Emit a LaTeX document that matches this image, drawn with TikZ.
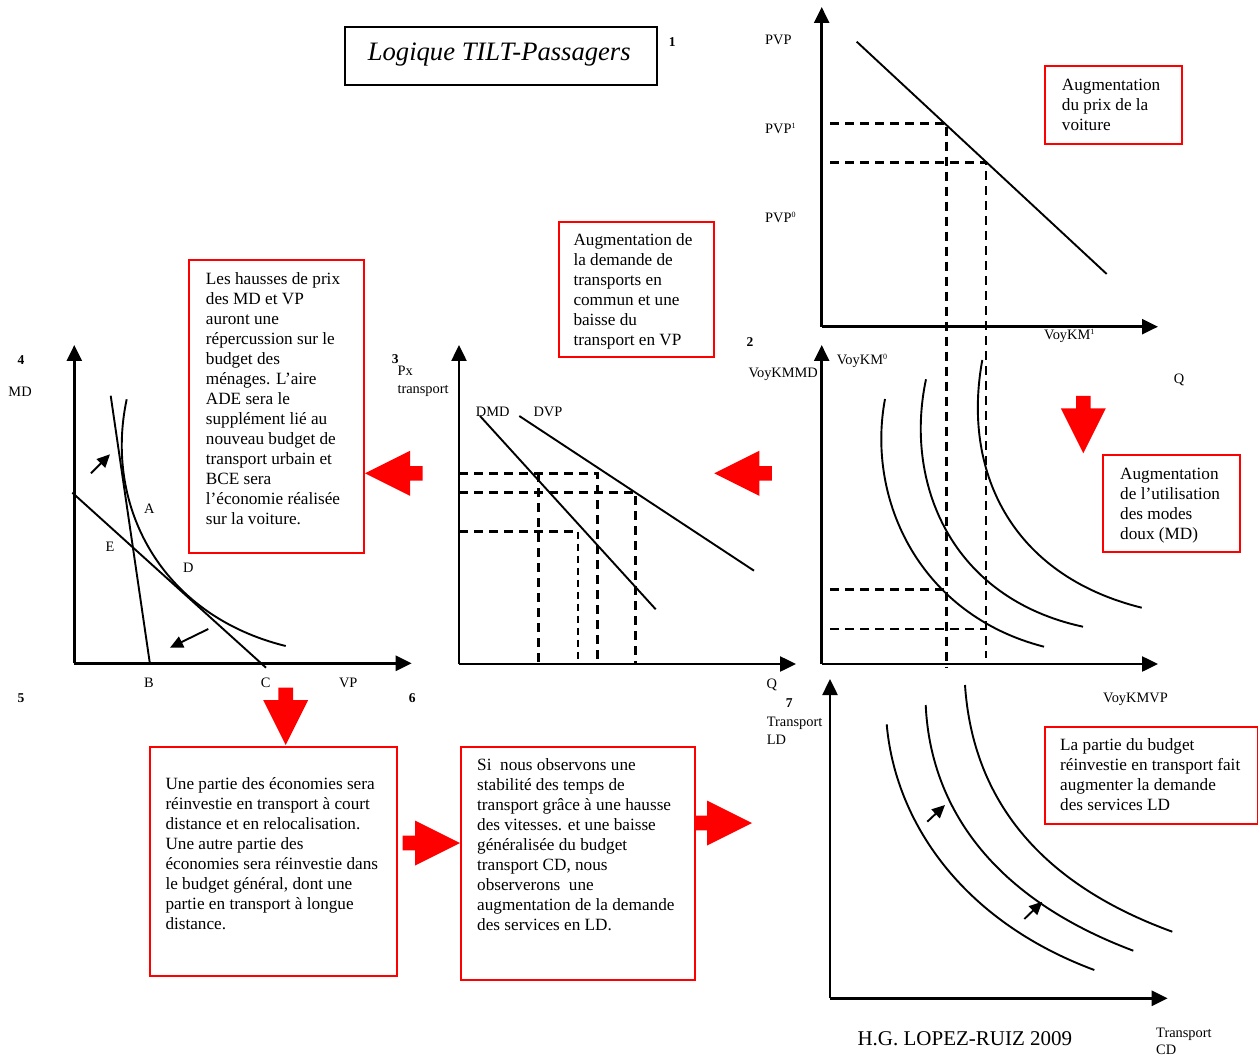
\documentclass[tikz,border=0pt]{standalone}
\usepackage{fontspec}
\setmainfont{Liberation Serif}
\usetikzlibrary{arrows.meta}

\tikzset{
  axis/.style={line width=2.5pt, -{Triangle[length=16pt,width=15pt]}},
  curve/.style={line width=1.9pt},
  guide/.style={line width=2.8pt, dash pattern=on 9pt off 6pt},
  thinguide/.style={line width=1.9pt, dash pattern=on 7pt off 5pt},
  shiftarrow/.style={line width=1.9pt, -{Triangle[length=13pt,width=12pt]}},
  lbl/.style={font=\fontsize{14.4}{16}\selectfont, inner sep=0pt},
  num/.style={font=\bfseries\fontsize{13.5}{15}\selectfont, inner sep=0pt},
  notebox/.style={draw=red, line width=2pt, inner sep=0pt, anchor=north west},
  notetext/.style={font=\fontsize{17.2}{20}\selectfont, inner sep=0pt, align=left, anchor=north west},
  pics/blockarrow/.style={code={
    \fill[red] (0,0) -- (-45,22.5) -- (-45,7.3) -- (-57.5,7.3) -- (-57.5,-7.3)
      -- (-45,-7.3) -- (-45,-22.5) -- cycle;}},
}
\newcommand{\supx}[1]{\raisebox{5pt}{\fontsize{8}{8}\selectfont #1}}

\begin{document}
\begin{tikzpicture}[x=1pt,y=-1pt]
\useasboundingbox (0,0) rectangle (1258,1056);
\fill[white] (0,0) rectangle (1258,1056);

% ---------- title ----------
\node[draw=black, line width=2pt, minimum width=311.7pt, minimum height=58.3pt,
      anchor=north west, inner sep=0pt] (titlebox) at (344,26) {};
\node[font=\itshape\fontsize{26.6}{30}\selectfont, anchor=base, inner sep=0pt] (title)
      at (499.3,61) {Logique TILT-Passagers};
\node[num, anchor=base] (n1) at (672.3,46.7) {1};

% ---------- panel 1 : price of the car ----------
\coordinate (o1) at (821.7,326.7);
\coordinate (y1) at (821.7,7);
\coordinate (x1) at (1158,326.7);
\draw[axis] (o1) -- (y1);
\draw[axis] (o1) -- (x1);
\draw[curve] (856.7,41.7) -- (1106.7,274);
\draw[guide] (830,123.3) -- (946.7,123.3) -- (946.7,667);
\draw[guide] (830,162.3) -- (986,162.3) -- (986,658);
\node[lbl, anchor=base west] (pvp)  at (765,44.3) {PVP};
\node[lbl, anchor=base west] (pvp1) at (765,133.3) {PVP\supx{1}};
\node[lbl, anchor=base west] (pvp0) at (765,222.7) {PVP\supx{0}};
\node[lbl, anchor=base west] (voykm1) at (1044,339.3) {VoyKM\supx{1}};
\node[notebox, minimum width=136.7pt, minimum height=78.3pt] (boxprix) at (1044,65) {};
\node[notetext] (txtprix) at (1061.7,78.9) {Augmentation\\du prix de la\\voiture};

% ---------- panel 2 : soft modes vs car ----------
\coordinate (o2) at (821.7,664);
\coordinate (y2) at (821.7,345);
\coordinate (x2) at (1158,664);
\draw[axis] (o2) -- (y2);
\draw[axis] (o2) -- (x2);
\draw[curve] (885,399) .. controls (866,500) and (920,615) .. (1044,646.7);
\draw[curve] (926,379.3) .. controls (904,482) and (950,598) .. (1083,626.7);
\draw[curve] (982.3,360) .. controls (962,470) and (1010,575) .. (1141.7,607.7);
\draw[guide] (830,589.3) -- (946.7,589.3);
\draw[guide] (830,629) -- (986,629);
\node[num, anchor=base] (n2) at (750,346.7) {2};
\node[lbl, anchor=base west] (voykmmd) at (748.3,377.3) {VoyKMMD};
\node[lbl, anchor=base west] (voykm0) at (836.7,364.7) {VoyKM\supx{0}};
\node[lbl, anchor=base] (q2) at (1179,383.3) {Q};
\node[lbl, anchor=base west] (voykmvp) at (1103,702.3) {VoyKMVP};
\pic[rotate=-90] (down2) at (1083.3,453.3) {blockarrow};
\node[notebox, minimum width=136.7pt, minimum height=96.7pt] (boxmd) at (1102.3,454) {};
\node[notetext] (txtmd) at (1120,467.5) {Augmentation\\de l’utilisation\\des modes\\doux (MD)};

% ---------- panel 3 : transport demand ----------
\coordinate (o3) at (459,664);
\coordinate (y3) at (459,345);
\coordinate (x3) at (796,664);
\draw[axis] (o3) -- (y3);
\draw[axis] (o3) -- (x3);
\draw[curve] (480,416) -- (655.7,609.3);
\draw[curve] (519.3,416) -- (754,570.7);
\draw[guide] (459,473.3) -- (597.3,473.3) -- (597.3,664);
\draw[guide] (459,492.7) -- (635.7,492.7) -- (635.7,664);
\draw[guide] (459,531.7) -- (577.7,531.7);
\draw[thinguide] (577.7,531.7) -- (577.7,664);
\draw[guide] (538.7,473.3) -- (538.7,664);
\node[num, anchor=base west] (n3) at (391.7,364) {3};
\node[lbl, anchor=base west] (px) at (397.3,376) {Px};
\node[lbl, anchor=base west] (pxt) at (397.3,393.3) {transport};
\node[lbl, anchor=base west] (dmd) at (475.7,416) {DMD};
\node[lbl, anchor=base west] (dvp) at (533.3,416) {DVP};
\node[lbl, anchor=base] (q3) at (771.7,688.3) {Q};
\pic[rotate=180] (left23) at (714.3,473.3) {blockarrow};
\node[notebox, minimum width=155.6pt, minimum height=135pt] (boxdem) at (557.7,221) {};
\node[notetext] (txtdem) at (573.3,233.2)
  {Augmentation de\\la demande de\\transports en\\commun et une\\baisse du\\transport en VP};

% ---------- panel 4 : household budget ----------
\coordinate (o4) at (74.3,663.3);
\coordinate (y4) at (74.3,345);
\coordinate (x4) at (411.7,663.3);
\draw[axis] (o4) -- (y4);
\draw[axis] (o4) -- (x4);
\draw[curve] (110.7,395.7) -- (150,664.3);
\draw[curve] (72.3,492.7) -- (266,667.7);
\draw[curve] (126.7,399.3) .. controls (104,505) and (160,615) .. (285.7,646);
\draw[shiftarrow] (91,473.3) -- (110,454.3);
\draw[shiftarrow] (208.3,629) -- (170,647.7);
\node[num, anchor=base] (n4) at (21,364.3) {4};
\node[lbl, anchor=base west] (md) at (8.3,396.7) {MD};
\node[lbl, anchor=base] (pa) at (149.3,513.3) {A};
\node[lbl, anchor=base] (pe) at (110,551.7) {E};
\node[lbl, anchor=base] (pd) at (188.3,572.3) {D};
\node[lbl, anchor=base] (pb) at (149,687.7) {B};
\node[lbl, anchor=base] (pc) at (265.7,687.7) {C};
\node[lbl, anchor=base] (vp) at (348.3,687.7) {VP};
\node[num, anchor=base] (n5) at (21,702.7) {5};
\node[num, anchor=base] (n6) at (412.3,702.7) {6};
\pic[rotate=180] (left34) at (365,473.3) {blockarrow};
\node[notebox, minimum width=175pt, minimum height=292.4pt] (boxbud) at (188.3,259.3) {};
\node[notetext] (txtbud) at (205.7,272.5)
  {Les hausses de prix\\des MD et VP\\auront une\\répercussion sur le\\budget des\\ménages. L’aire\\ADE sera le\\supplément lié au\\nouveau budget de\\transport urbain et\\BCE sera\\l’économie réalisée\\sur la voiture.};

% ---------- bottom chain of notes ----------
\pic[rotate=-90] (down45) at (285.7,745) {blockarrow};
\node[notebox, minimum width=247pt, minimum height=229.3pt] (boxeco) at (148.7,745.7) {};
\node[notetext] (txteco) at (165.3,777.5)
  {Une partie des économies sera\\réinvestie en transport à court\\distance et en relocalisation.\\Une autre partie des\\économies sera réinvestie dans\\le budget général, dont une\\partie en transport à longue\\distance.};
\pic (right56) at (460,843) {blockarrow};
\node[notebox, minimum width=234pt, minimum height=233.3pt] (boxvit) at (460,745.7) {};
\node[notetext] (txtvit) at (477,758.2)
  {Si\ \ nous observons une\\stabilité des temps de\\transport grâce à une hausse\\des vitesses. et une baisse\\généralisée du budget\\transport CD, nous\\observerons\ \ une\\augmentation de la demande\\des services en LD.};
\pic (right67) at (752,823) {blockarrow};

% ---------- panel 7 : long distance vs short distance ----------
\coordinate (o7) at (830,998.3);
\coordinate (y7) at (830,679);
\coordinate (x7) at (1167.7,998.3);
\draw[axis] (o7) -- (y7);
\draw[axis] (o7) -- (x7);
\draw[curve] (886.7,724.3) .. controls (895,820) and (960,920) .. (1094.3,970);
\draw[curve] (925.7,705) .. controls (930,800) and (985,895) .. (1133.3,950.7);
\draw[curve] (965,685) .. controls (972,790) and (1030,880) .. (1172.3,931.7);
\draw[shiftarrow] (927.3,821.7) -- (945,805);
\draw[shiftarrow] (1024.3,919) -- (1042.3,901.7);
\node[num, anchor=base] (n7) at (789.3,707.3) {7};
\node[lbl, anchor=base west] (tld) at (766.7,726.7) {Transport};
\node[lbl, anchor=base west] (ld) at (766.7,744) {LD};
\node[lbl, anchor=base west] (tcd) at (1156,1037.7) {Transport};
\node[lbl, anchor=base west] (cd) at (1156,1054.3) {CD};
\node[notebox, minimum width=213.3pt, minimum height=97.3pt] (boxld) at (1044,726) {};
\node[notetext] (txtld) at (1060,738.2)
  {La partie du budget\\réinvestie en transport fait\\augmenter la demande\\des services LD};
\node[font=\fontsize{21}{24}\selectfont, anchor=base west, inner sep=0pt] (author)
  at (857.3,1045) {H.G. LOPEZ-RUIZ 2009};

\end{tikzpicture}
\end{document}
